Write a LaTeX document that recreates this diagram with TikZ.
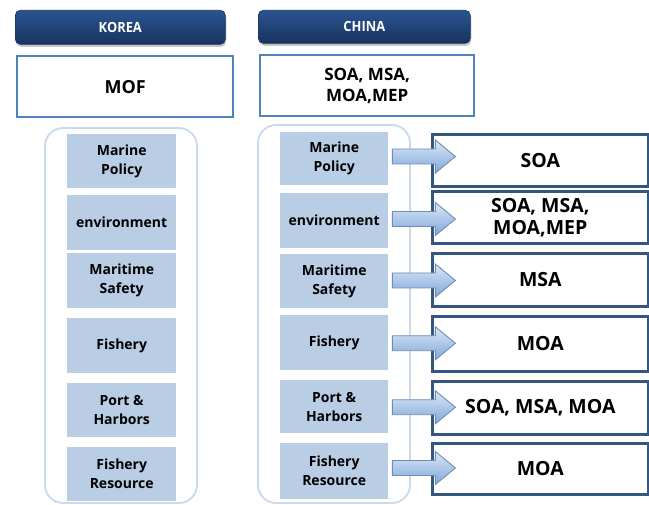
\documentclass[tikz,border=0pt]{standalone}
\usepackage{fontspec}
\setmainfont{Open Sans}
\usetikzlibrary{shadows,calc}
\definecolor{hdtop}{HTML}{2C5390}
\definecolor{hdbot}{HTML}{173360}
\definecolor{govline}{HTML}{4F81BD}
\definecolor{frame}{HTML}{C9D9EE}
\definecolor{itemfill}{HTML}{B9CDE5}
\definecolor{agencyline}{HTML}{34577F}
\definecolor{arrtop}{HTML}{DCE7F5}
\definecolor{arrbot}{HTML}{7FA8DB}
\definecolor{arrline}{HTML}{6F8DB4}
\tikzset{
  header/.style={anchor=north west, rounded corners=5pt, top color=hdtop, bottom color=hdbot,
    draw=hdbot, line width=0.6pt, text=white, font=\bfseries\fontsize{14}{15}\selectfont,
    drop shadow={opacity=0.45, shadow xshift=1pt, shadow yshift=-2.5pt}, inner sep=0pt},
  govbox/.style={anchor=north west, draw=govline, line width=2.4pt, fill=white, inner sep=0pt,
    align=center, font=\bfseries\fontsize{17}{21}\selectfont},
  container/.style={draw=frame, line width=1.8pt, rounded corners=18pt},
  item/.style={anchor=north west, fill=itemfill, inner sep=0pt, align=center,
    font=\bfseries\fontsize{14}{19}\selectfont},
  agency/.style={anchor=north west, draw=agencyline, line width=2.6pt, fill=white, inner sep=0pt,
    align=center, font=\bfseries\fontsize{19.5}{22}\selectfont},
  blockarrow/.style={draw=arrline, line width=0.9pt, top color=arrtop, bottom color=arrbot, line join=miter}
}
\begin{document}
\begin{tikzpicture}[x=1pt,y=-1pt]
\useasboundingbox (0,0) rectangle (649,505);

% country headers and governing bodies
\node[header, minimum width=210pt, minimum height=34pt] (korea) at (15,10) {\scalebox{0.92}[1]{KOREA}};
\node[header, minimum width=212pt, minimum height=33pt] (china) at (258,10) {\scalebox{0.92}[1]{CHINA}};
\node[govbox, minimum width=216pt, minimum height=61pt] (mof) at (16,55) {\fontsize{18}{21}\selectfont MOF};
\node[govbox, minimum width=214pt, minimum height=61pt] (cgov) at (259,54) {SOA, MSA,\\MOA,MEP};

% rounded frames around the policy areas
\draw[container] (45,128) rectangle (197,503);
\draw[container] (258,125) rectangle (410,503);

% Korea policy areas
\node[item, minimum width=109pt, minimum height=54pt] (k1) at (67,134) {Marine\\Policy};
\node[item, minimum width=109pt, minimum height=55pt] (k2) at (67,195) {environment};
\node[item, minimum width=109pt, minimum height=55pt] (k3) at (67,253) {Maritime\\Safety};
\node[item, minimum width=109pt, minimum height=55pt] (k4) at (67,318) {Fishery};
\node[item, minimum width=109pt, minimum height=54pt] (k5) at (67,383) {Port \&\\Harbors};
\node[item, minimum width=109pt, minimum height=54pt] (k6) at (67,447) {Fishery\\Resource};

% China policy areas
\node[item, minimum width=108pt, minimum height=53pt] (c1) at (280,132) {Marine\\Policy};
\node[item, minimum width=108pt, minimum height=55pt] (c2) at (280,193) {environment};
\node[item, minimum width=108pt, minimum height=54pt] (c3) at (280,254) {Maritime\\Safety};
\node[item, minimum width=108pt, minimum height=55pt] (c4) at (280,315) {Fishery};
\node[item, minimum width=108pt, minimum height=53pt] (c5) at (280,380) {Port \&\\Harbors};
\node[item, minimum width=108pt, minimum height=56pt] (c6) at (280,443) {Fishery\\Resource};

% responsible agencies
\node[agency, minimum width=216pt, minimum height=52pt] (b1) at (431,133) {SOA};
\node[agency, minimum width=216pt, minimum height=52pt] (b2) at (431,190) {SOA, MSA,\\MOA,MEP};
\node[agency, minimum width=216pt, minimum height=53pt] (b3) at (431,252) {MSA};
\node[agency, minimum width=216pt, minimum height=55pt] (b4) at (431,315) {MOA};
\node[agency, minimum width=216pt, minimum height=53pt] (b5) at (431,380) {SOA, MSA, MOA};
\node[agency, minimum width=216pt, minimum height=51pt] (b6) at (431,442) {MOA};

% block arrows from each policy area to its agency
\foreach \i/\dy in {1/-3,2/0,3/0,4/0,5/0,6/-2}{
  \coordinate (m\i) at ($(c\i.east)!0.5!(b\i.west)$);
  \coordinate (t\i) at ([xshift=4pt,yshift=-\dy pt]c\i.east |- m\i);
  \draw[blockarrow] (t\i) ++(0,-7.5) -- ++(43,0) -- ++(0,-9) -- ++(20,16.5)
    -- ++(-20,16.5) -- ++(0,-9) -- ++(-43,0) -- cycle;
}
\end{tikzpicture}
\end{document}
